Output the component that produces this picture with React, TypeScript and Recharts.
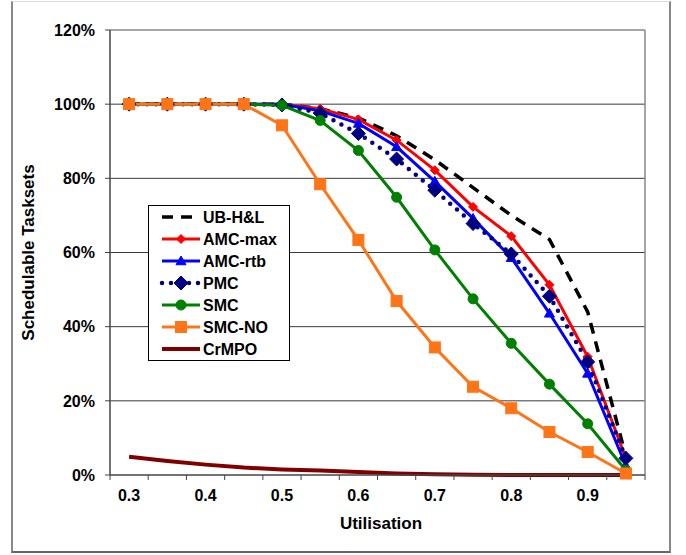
import React from 'react';
import { LineChart, Line, XAxis, YAxis, CartesianGrid, ReferenceLine } from 'recharts';

// ---- data ----
const utilisation = [0.3, 0.35, 0.4, 0.45, 0.5, 0.55, 0.6, 0.65, 0.7, 0.75, 0.8, 0.85, 0.9, 0.95];
const ubHL = [100, 100, 100, 100, 100, 98.8, 96.3, 91.5, 85, 77.5, 70, 63.5, 44, 5];
const amcMax = [100, 100, 100, 100, 100, 98.8, 95.9, 90.3, 82.2, 72.3, 64.4, 51.3, 31.9, 4.5];
const amcRtb = [100, 100, 100, 100, 100, 98.2, 94.8, 88.5, 79.2, 69.2, 58.6, 43.6, 27.4, 2.5];
const pmc = [100, 100, 100, 100, 99.8, 97.6, 92.1, 85.2, 76.8, 67.8, 59.6, 48.2, 30.5, 4.5];
const smc = [100, 100, 100, 100, 99.7, 95.6, 87.5, 74.9, 60.7, 47.5, 35.5, 24.5, 13.8, 1.3];
const smcNo = [100, 100, 100, 100, 94.3, 78.4, 63.4, 46.9, 34.4, 23.8, 18, 11.6, 6.2, 0.4];
const crmpo = [4.9, 3.8, 2.8, 2.0, 1.5, 1.2, 0.8, 0.4, 0.2, 0.1, 0, 0, 0, 0];

const xTickLabels = [0.3, 0.4, 0.5, 0.6, 0.7, 0.8, 0.9];
const xTickBoundaries = [0.275, 0.325, 0.375, 0.425, 0.475, 0.525, 0.575, 0.625, 0.675, 0.725, 0.775, 0.825, 0.875, 0.925, 0.975];
const yTicks = [0, 20, 40, 60, 80, 100, 120];
const yGrid = [20, 40, 60, 80, 100];

const seriesNames = ['UB-H&L', 'AMC-max', 'AMC-rtb', 'PMC', 'SMC', 'SMC-NO', 'CrMPO'];

const data = utilisation.map((u, i) => ({
  u,
  ub: ubHL[i],
  amcMax: amcMax[i],
  amcRtb: amcRtb[i],
  pmc: pmc[i],
  smc: smc[i],
  smcNo: smcNo[i],
  crmpo: crmpo[i],
}));

const FONT = '"Liberation Sans", Arial, Helvetica, sans-serif';

type S = {
  key: string;
  name: string;
  color: string;
  width: number;
  dash?: string;
  cap?: 'round' | 'butt';
  marker?: 'circle' | 'square' | 'diamond' | 'triangle' | null;
  size?: number;
};

const series: S[] = [
  { key: 'ub', name: seriesNames[0], color: '#000000', width: 3.5, dash: '11 8', marker: null },
  { key: 'amcMax', name: seriesNames[1], color: '#FF0000', width: 3, marker: 'diamond', size: 9 },
  { key: 'amcRtb', name: seriesNames[2], color: '#0000FF', width: 3, marker: 'triangle', size: 10 },
  { key: 'pmc', name: seriesNames[3], color: '#000080', width: 4.5, dash: '0 9', cap: 'round', marker: 'diamond', size: 14 },
  { key: 'smc', name: seriesNames[4], color: '#008000', width: 3, marker: 'circle', size: 10 },
  { key: 'smcNo', name: seriesNames[5], color: '#FF7417', width: 3, marker: 'square', size: 11 },
  { key: 'crmpo', name: seriesNames[6], color: '#800000', width: 4, marker: null },
];

const drawOrder = ['crmpo', 'ub', 'amcMax', 'amcRtb', 'pmc', 'smc', 'smcNo'];

function Marker({ shape, cx, cy, color, size }: { shape: string; cx: number; cy: number; color: string; size: number }) {
  const h = size / 2;
  if (shape === 'circle') return <circle cx={cx} cy={cy} r={h} fill={color} stroke={color} />;
  if (shape === 'square') return <rect x={cx - h} y={cy - h} width={size} height={size} fill={color} stroke={color} />;
  if (shape === 'diamond')
    return <polygon points={`${cx},${cy - h} ${cx + h},${cy} ${cx},${cy + h} ${cx - h},${cy}`} fill={color} stroke={color} />;
  if (shape === 'triangle')
    return <polygon points={`${cx},${cy - h} ${cx + h},${cy + h * 0.75} ${cx - h},${cy + h * 0.75}`} fill={color} stroke={color} />;
  return null;
}

function XTick(props: any) {
  const { x, y, payload } = props;
  const v = payload.value;
  const isLabel = xTickLabels.some((t) => Math.abs(t - v) < 1e-9);
  if (isLabel) {
    return (
      <text x={x} y={y + 15} dy="0.71em" textAnchor="middle" fontFamily={FONT} fontWeight="bold" fontSize={16} fill="#000">
        {v.toFixed(1)}
      </text>
    );
  }
  return <line x1={x} x2={x} y1={y} y2={y + 5} stroke="#444" strokeWidth={1} />;
}

function YTitle(props: any) {
  const vb = props.viewBox || { x: 10, y: 30, width: 100, height: 445 };
  const cx = vb.x + 18.5;
  const cy = vb.y + vb.height / 2;
  return (
    <text
      x={cx}
      y={cy}
      transform={`rotate(-90, ${cx}, ${cy})`}
      textAnchor="middle"
      dominantBaseline="central"
      fontFamily={FONT}
      fontWeight="bold"
      fontSize={17}
      fill="#000"
    >
      Schedulable Tasksets
    </text>
  );
}

function XTitle(props: any) {
  const vb = props.viewBox || { x: 110, y: 475, width: 535, height: 80 };
  const cx = vb.x + vb.width / 2 + 3.5;
  const cy = vb.y + 48;
  return (
    <text x={cx} y={cy} textAnchor="middle" dominantBaseline="central" fontFamily={FONT} fontWeight="bold" fontSize={17} fill="#000">
      Utilisation
    </text>
  );
}

function LegendBox() {
  return (
    <div style={{ position: 'absolute', left: 148, top: 205, border: '1px solid #000', background: '#fff', width: 140, height: 154 }}>
      <svg width={140} height={154} style={{ display: 'block' }}>
        {series.map((s, i) => {
          const cy = 11 + i * 22;
          return (
            <g key={s.key}>
              <line
                x1={13}
                x2={51}
                y1={cy}
                y2={cy}
                stroke={s.color}
                strokeWidth={s.width}
                strokeDasharray={s.dash}
                strokeLinecap={s.cap || 'butt'}
              />
              {s.marker ? <Marker shape={s.marker} cx={32} cy={cy} color={s.color} size={s.size || 8} /> : null}
              <text x={54} y={cy} dominantBaseline="central" fontFamily={FONT} fontWeight="bold" fontSize={16} fill="#000">
                {s.name}
              </text>
            </g>
          );
        })}
      </svg>
    </div>
  );
}

export default function App() {
  const ordered = drawOrder.map((k) => series.find((s) => s.key === k)!);
  return (
    <div style={{ position: 'absolute', left: 0, top: 0, width: 686, height: 555, background: '#fff', fontFamily: FONT }}>
      <LineChart width={686} height={555} data={data} margin={{ top: 30, right: 41, left: 10, bottom: 0 }}>
        <CartesianGrid horizontal vertical={false} horizontalValues={yGrid} stroke="#3a3a3a" strokeWidth={1} />
        <XAxis
          dataKey="u"
          type="number"
          domain={[0.275, 0.975]}
          ticks={[...xTickBoundaries, ...xTickLabels]}
          interval={0}
          tick={<XTick />}
          tickLine={false}
          tickSize={0}
          tickMargin={0}
          height={80}
          axisLine={{ stroke: '#444', strokeWidth: 1.5 }}
          allowDataOverflow
          label={<XTitle />}
        />
        <YAxis
          type="number"
          domain={[0, 120]}
          ticks={yTicks}
          interval={0}
          width={100}
          tickSize={5}
          tickMargin={10}
          tickFormatter={(v: number) => `${v}%`}
          tick={{ fontFamily: FONT, fontWeight: 'bold', fontSize: 16, fill: '#000' }}
          tickLine={{ stroke: '#444' }}
          axisLine={{ stroke: '#444', strokeWidth: 1.5 }}
          label={<YTitle />}
        />
        <ReferenceLine y={120} stroke="#888" strokeWidth={1.5} />
        <ReferenceLine x={0.975} stroke="#888" strokeWidth={1.5} />
        {ordered.map((s) => (
          <Line
            key={s.key}
            type="linear"
            dataKey={s.key}
            name={s.name}
            stroke={s.color}
            strokeWidth={s.width}
            strokeDasharray={s.dash}
            strokeLinecap={s.cap || 'butt'}
            isAnimationActive={false}
            activeDot={false}
            dot={
              s.marker
                ? (p: any) => (
                    <Marker key={`${s.key}-${p.index}`} shape={s.marker as string} cx={p.cx} cy={p.cy} color={s.color} size={s.size || 8} />
                  )
                : false
            }
          />
        ))}
      </LineChart>
      <LegendBox />
      <div
        style={{
          position: 'absolute',
          left: 11,
          top: 1,
          width: 656,
          height: 549,
          borderLeft: '2px solid #888',
          borderRight: '2px solid #888',
          borderBottom: '2px solid #666',
          borderTop: '1px solid #ddd',
          pointerEvents: 'none',
        }}
      />
    </div>
  );
}
